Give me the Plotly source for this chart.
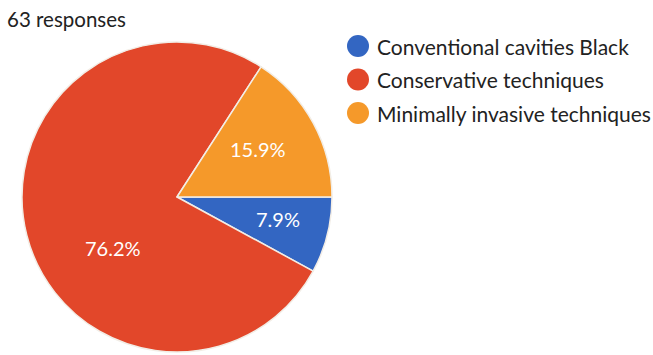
import math
import plotly.graph_objects as go

# Survey answers (63 responses)
categories = ["Conventional cavities Black", "Conservative techniques", "Minimally invasive techniques"]
counts = [5, 48, 10]
colors = ["#3366C2", "#E2472A", "#F5992A"]
total_label = "63 responses"

FONT = "Lato, Open Sans, sans-serif"
W, H = 653, 355
CX, CY, R = 177, 197, 155          # pie centre and radius in pixels
START_DEG = 0                      # first slice starts at 3 o'clock, going clockwise

# per-slice label placement: (angle shift in degrees, radius fraction)
label_place = [(-2, 0.67), (-24, 0.53), (-2, 0.61)]

# legend layout in pixels
LEG_DOT_X, LEG_TEXT_X, LEG_TOP, LEG_STEP, LEG_DOT_R = 358, 375, 46, 33.5, 11

fig = go.Figure()

fig.add_trace(go.Pie(
    labels=categories,
    values=counts,
    sort=False,
    direction="clockwise",
    rotation=90,
    marker=dict(colors=colors, line=dict(color="#F2EDE6", width=1.5)),
    textinfo="none",
    showlegend=False,
    hoverinfo="label+percent",
    domain=dict(x=[(CX - R) / W, (CX + R) / W], y=[1 - (CY + R) / H, 1 - (CY - R) / H]),
))

# Percentage labels positioned from each slice's mid-angle
total = sum(counts)
annotations = []
cum = 0
for v, (shift, frac) in zip(counts, label_place):
    mid = START_DEG + 360 * (cum + v / 2) / total + shift
    cum += v
    px = CX + frac * R * math.cos(math.radians(mid))
    py = CY + frac * R * math.sin(math.radians(mid))
    annotations.append(dict(
        text=f"{100 * v / total:.1f}%", x=px / W, y=1 - py / H,
        xref="paper", yref="paper", xanchor="center", yanchor="middle",
        showarrow=False, font=dict(size=20, family=FONT, color="white"),
    ))

annotations.append(dict(
    text=total_label, x=5 / W, y=1 - 5 / H, xref="paper", yref="paper",
    xanchor="left", yanchor="top", showarrow=False,
    font=dict(size=20.5, family=FONT, color="#222222"),
))

# Legend with round swatches
shapes = []
for i, (name, col) in enumerate(zip(categories, colors)):
    yc = LEG_TOP + i * LEG_STEP
    shapes.append(dict(
        type="circle", xref="paper", yref="paper",
        x0=(LEG_DOT_X - LEG_DOT_R) / W, x1=(LEG_DOT_X + LEG_DOT_R) / W,
        y0=1 - (yc + LEG_DOT_R) / H, y1=1 - (yc - LEG_DOT_R) / H,
        fillcolor=col, line=dict(width=0),
    ))
    annotations.append(dict(
        text=name, x=LEG_TEXT_X / W, y=1 - yc / H, xref="paper", yref="paper",
        xanchor="left", yanchor="middle", showarrow=False,
        font=dict(size=21, family=FONT, color="#222222"),
    ))

fig.update_layout(
    width=W, height=H,
    margin=dict(l=0, r=0, t=0, b=0),
    paper_bgcolor="white", plot_bgcolor="white",
    showlegend=False,
    font=dict(family=FONT, color="#222222"),
    annotations=annotations,
    shapes=shapes,
)

fig.write_html("out.html")
